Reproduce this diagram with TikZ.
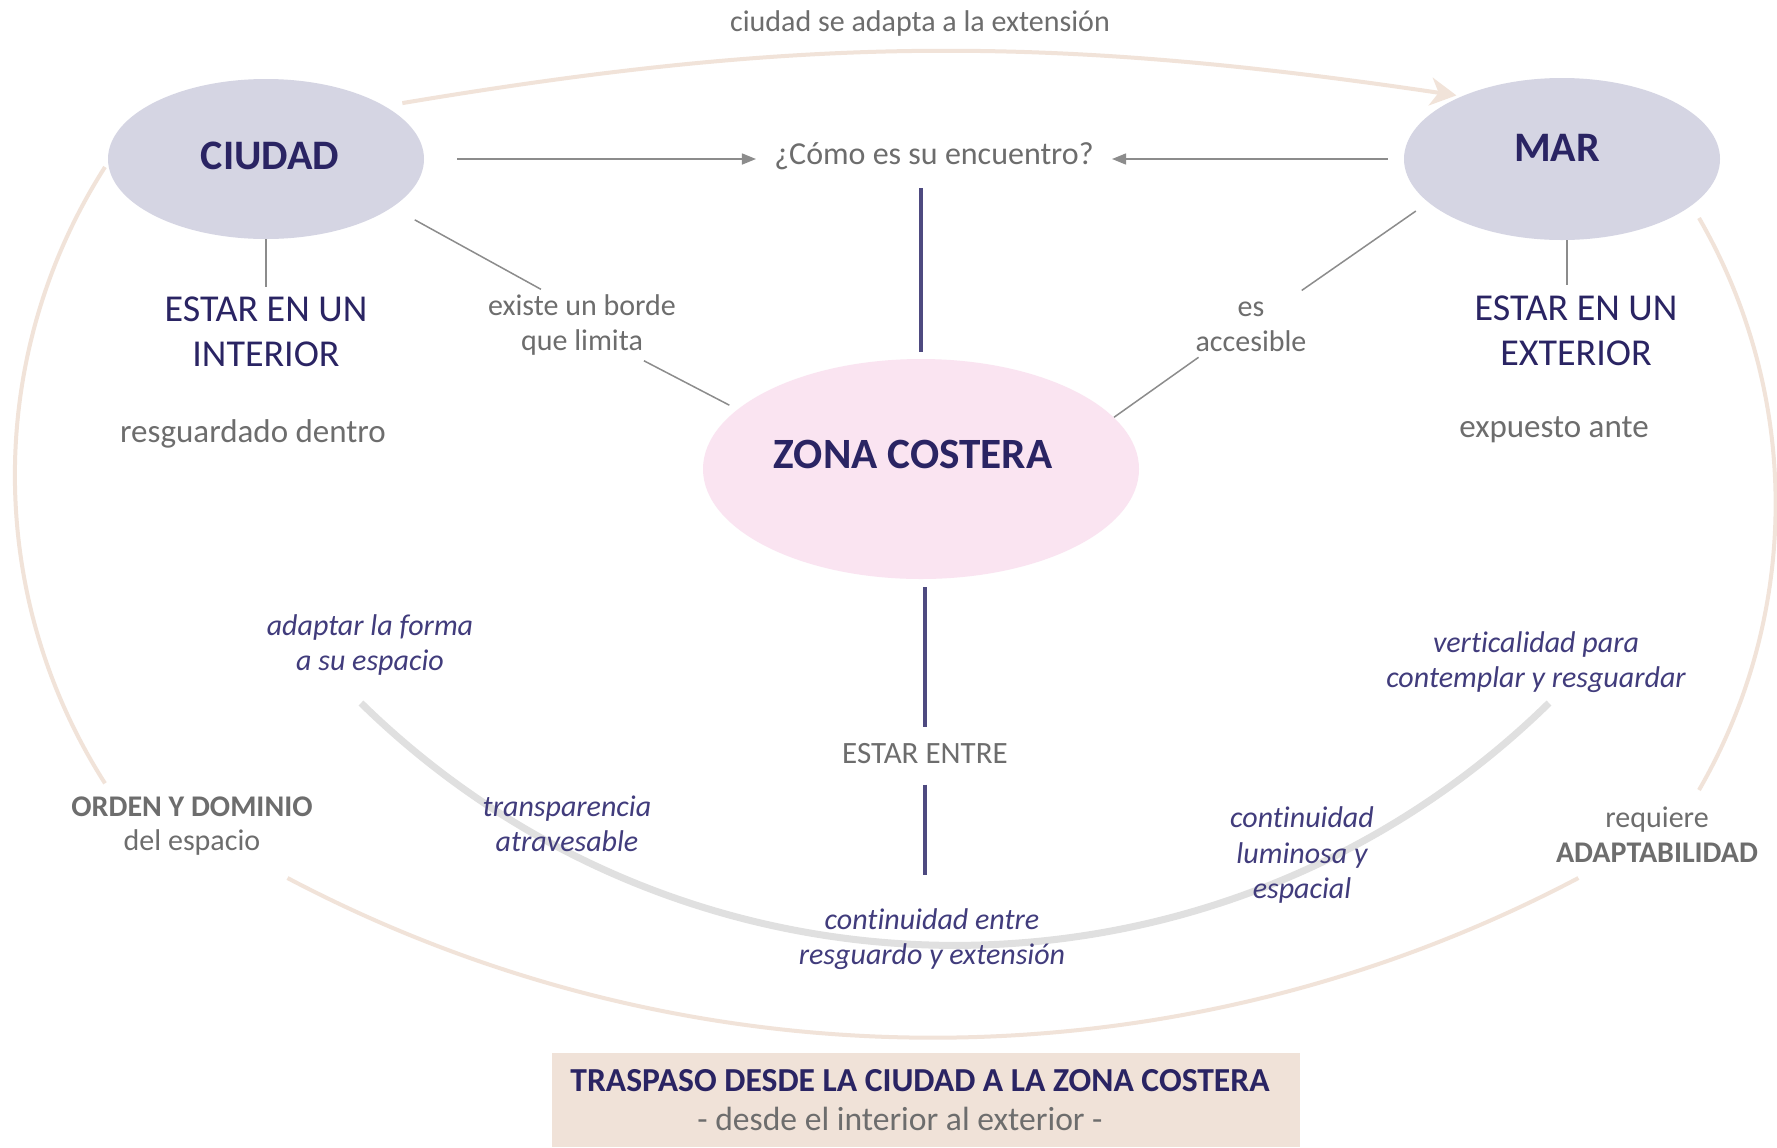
\documentclass[tikz,border=0pt]{standalone}
\usepackage{fontspec}
\setmainfont{Carlito}[RawFeature={-liga}]
\usetikzlibrary{shapes.geometric,arrows.meta,positioning,calc}

\definecolor{navytext}{HTML}{2A2463}
\definecolor{greytext}{HTML}{6D6D6D}
\definecolor{italictext}{HTML}{413C7C}
\definecolor{sitefill}{HTML}{D5D5E3}
\definecolor{zonefill}{HTML}{FAE4F1}
\definecolor{ringcolor}{HTML}{F1E3D9}
\definecolor{arcgrey}{HTML}{E0E0E0}
\definecolor{barcolor}{HTML}{4E4A80}
\definecolor{linkgrey}{HTML}{8C8C8C}
\definecolor{boxfill}{HTML}{F0E2D8}

\begin{document}
\begin{tikzpicture}[
    x=0.5pt, y=0.5pt,
    site/.style={ellipse, fill=sitefill, inner sep=0pt, minimum width=158pt, minimum height=80pt, font=\fontsize{21}{25}\selectfont\bfseries, text=navytext},
    zone/.style={ellipse, fill=zonefill, inner sep=0pt, minimum width=218pt, minimum height=110pt, font=\fontsize{21.6}{25}\selectfont\bfseries, text=navytext},
    stance/.style={font=\fontsize{19}{22.5}\selectfont, text=navytext, align=center, inner sep=5pt},
    note/.style={font=\fontsize{16.5}{19}\selectfont, text=greytext, align=center, inner sep=2.5pt},
    linklabel/.style={font=\fontsize{15}{17.5}\selectfont, text=greytext, align=center, inner sep=2.5pt},
    quality/.style={font=\fontsize{15}{17.75}\selectfont\itshape, text=italictext, align=center, inner sep=2.5pt},
    link/.style={draw=linkgrey, line width=0.75pt},
    pointer/.style={link, -{Triangle[length=7pt,width=5.5pt]}},
    bar/.style={draw=barcolor, line width=2.25pt},
    ring/.style={draw=ringcolor, line width=2pt}
]
    \useasboundingbox (0,0) rectangle (1777,-1147);
    \fill[white] (0,0) rectangle (1777,-1147);

    % Outer ring
    \draw[ring] (105,-167) arc[start angle=147.4, end angle=212.6, radius=572];
    \draw[ring] (1699,-218) arc[start angle=30, end angle=-30, radius=572];
    \draw[ring] (287.5,-878) arc[start angle=242.2, end angle=297.8, radius=1384];

    % Inner grey arc
    \draw[line width=3.5pt, arcgrey] (361,-703) arc[start angle=225.6, end angle=314.4, radius=849];

    % Places
    \node[site, text depth=3pt] (ciudad) at (266,-159) {\hspace{4pt}CIUDAD};
    \node[site, text depth=11pt, minimum height=81pt] (mar) at (1562,-159) {MAR\kern5pt};
    \node[zone, text depth=15pt] (zona) at (921,-469) {ZONA COSTERA\kern8pt};

    % Labels
    \node[linklabel] (extension) at (920,-23) {ciudad se adapta a la extensión};
    \node[note, font=\fontsize{16}{19}\selectfont, inner sep=9pt] (encuentro) at (934,-156) {¿Cómo es su encuentro?};
    \node[stance] (interior) at (266,-332) {ESTAR EN UN\\INTERIOR};
    \node[stance] (exterior) at (1576,-330.5) {ESTAR EN UN\\EXTERIOR};
    \node[note] (dentro) at (253,-434) {resguardado dentro};
    \node[note] (ante) at (1554,-430) {expuesto ante};
    \node[linklabel] (borde) at (582,-325) {existe un borde\\que limita};
    \node[linklabel] (accesible) at (1251,-327) {es\\accesible};
    \node[linklabel, font=\fontsize{15.5}{18}\selectfont, inner sep=8pt] (entre) at (925,-754) {ESTAR ENTRE};
    \node[linklabel, font=\fontsize{15}{17}\selectfont] (orden) at (192,-826) {\textbf{ORDEN Y DOMINIO}\\del espacio};
    \node[linklabel] (requiere) at (1657,-835) {requiere\\\textbf{ADAPTABILIDAD}};

    % Qualities along the grey arc
    \node[quality] (forma) at (370,-645) {adaptar la forma\\a su espacio};
    \node[quality] (transparencia) at (567,-824) {transparencia\\atravesable};
    \node[quality] (resguardo) at (932,-939) {continuidad entre\\resguardo y extensión};
    \node[quality] (verticalidad) at (1536,-662) {verticalidad para\\contemplar y resguardar};
    \node[quality] (luminosa) at (1302,-855) {continuidad\\luminosa y\\espacial};

    % Bottom caption
    \node[fill=boxfill, minimum width=374pt, minimum height=47pt, inner sep=0pt, align=center, text=navytext, font=\fontsize{16.8}{19.5}\selectfont] (traspaso) at (926,-1100)
        {\textbf{TRASPASO DESDE LA CIUDAD A LA ZONA COSTERA}\kern6pt\\{\color{greytext}- desde el interior al exterior -\hspace{26pt}}};

    % Connectors
    \draw[ring, -{Stealth[length=13pt,width=14pt,inset=4pt]}, shorten <=8.75pt, shorten >=2.5pt] (ciudad.24) to[bend left=9] (mar.148);
    \draw[pointer, shorten <=16.5pt] (ciudad.east) -- (ciudad.east -| encuentro.west);
    \draw[pointer, shorten <=8pt] (mar.west) -- (mar.west -| encuentro.east);

    \draw[bar, shorten >=3.5pt] (encuentro.south -| zona.north) -- (zona.north);
    \draw[bar, shorten <=4pt] (zona.south -| entre.north) -- (entre.north);
    \draw[bar, shorten <=2pt, shorten >=14pt] (entre.south) -- (entre.south |- resguardo.north);

    \coordinate (marfoot) at ($(mar.south)+(5,0)$);
    \draw[link] (ciudad.south) -- (interior.north);
    \draw[link] (marfoot) -- (marfoot |- exterior.north);
    \draw[link, shorten <=12.8pt] (ciudad.-21) -- (borde.139);
    \draw[link, shorten >=4.5pt] (borde.-30) -- (zona.162);
    \draw[link, shorten <=7.5pt, shorten >=5.5pt] (mar.198) -- (accesible.36);
    \draw[link] (accesible.210) -- (zona.15);

\end{tikzpicture}
\end{document}
